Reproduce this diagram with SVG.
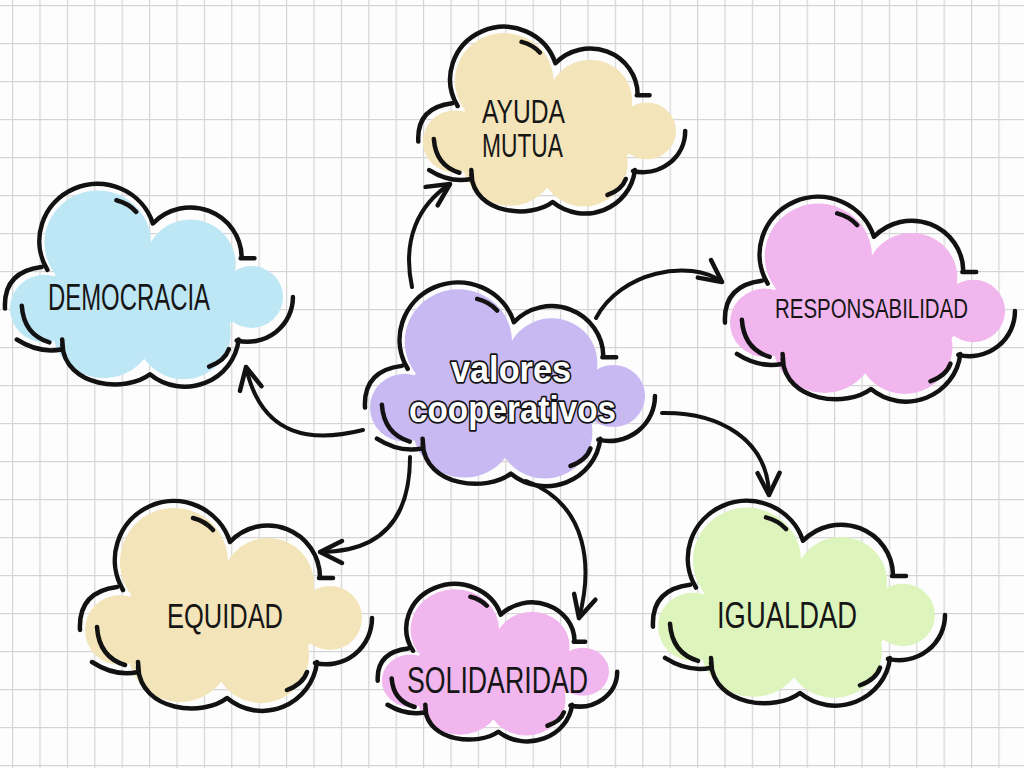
<svg xmlns="http://www.w3.org/2000/svg" width="1024" height="768" viewBox="0 0 1024 768">
<style>
.co{fill:none;stroke:#121212;stroke-width:4.5;stroke-linecap:round;stroke-linejoin:round;vector-effect:non-scaling-stroke}
.conn path{fill:none;stroke:#121212;stroke-width:4;stroke-linecap:round;marker-end:url(#ah)}
.lbl{font-family:"Liberation Sans Narrow","Liberation Sans","DejaVu Sans Condensed",sans-serif;fill:#161616}
.ctr{font-family:"Liberation Sans Narrow","Liberation Sans","DejaVu Sans Condensed",sans-serif;font-weight:bold;fill:#ffffff;stroke:#121212;stroke-width:3.5;stroke-linejoin:round;paint-order:stroke}
</style>
<defs>
<pattern id="grid" width="27.4" height="38" patternUnits="userSpaceOnUse" x="12" y="5">
<rect x="0" y="0" width="1.2" height="38" fill="#d4d4d4"/>
<rect x="0" y="0" width="27.4" height="1.2" fill="#d4d4d4"/>
</pattern>
<marker id="ah" markerWidth="40" markerHeight="40" viewBox="-30 -20 40 40" refX="0" refY="0" orient="auto" markerUnits="userSpaceOnUse">
<path d="M -22,-11 L 0,0 L -22,11" fill="none" stroke="#121212" stroke-width="4.5" stroke-linecap="round" stroke-linejoin="round"/>
</marker>
<g id="cloud">
<circle cx="-49" cy="-55" r="54"/>
<circle cx="45" cy="-33" r="46"/>
<circle cx="107" cy="1" r="32"/>
<circle cx="38" cy="38" r="48"/>
<circle cx="-43" cy="33" r="52"/>
<circle cx="-103" cy="13" r="35"/>
<ellipse cx="0" cy="0" rx="100" ry="55"/>
<path class="co" d="M -143,13 Q -145,-25 -106,-30 M -100,-27 A 59 59 0 1 1 7,-75 A 52 52 0 0 1 97,-40 M 96,-39 L 110,-39 M 149,1 A 46 46 0 0 1 92,46 M 94,45 A 55 55 0 0 1 4,81 C -20,100 -82,95 -85,50 M -85,45 L -84,57 M -85,55 Q -108,60 -131,45 M -30,-99 Q -18,-96 -10,-87 M -126,10 Q -124,40 -98,48 M 64,73 Q 80,67 84,55"/>
</g>
</defs>
<rect x="0" y="0" width="1024" height="768" fill="#fdfdfd"/>
<rect x="0" y="0" width="1024" height="768" fill="url(#grid)"/>

<g id="connectors" class="conn">
<path d="M 363,430 C 315,442 262,440 246,367"/>
<path d="M 410,457 C 410,520 380,552 320,552"/>
<path d="M 526,481 C 590,505 592,570 579,618"/>
<path d="M 412,287 C 402,240 418,205 450,184"/>
<path d="M 596,318 C 620,272 690,258 722,282"/>
<path d="M 662,413 C 720,412 768,440 769,495"/>
</g>

<g id="node-ayuda-mutua">
<use href="#cloud" transform="translate(549 130) scale(0.914 0.89)" fill="#f3e5b9"/>
<text class="lbl" x="482" y="123" font-size="33" textLength="83" lengthAdjust="spacingAndGlyphs">AYUDA</text>
<text class="lbl" x="482" y="157" font-size="33" textLength="81" lengthAdjust="spacingAndGlyphs">MUTUA</text>
</g>

<g id="node-democracia">
<use href="#cloud" transform="translate(146 296) scale(0.986 0.967)" fill="#bee7f6"/>
<text class="lbl" x="48" y="310" font-size="37" textLength="162" lengthAdjust="spacingAndGlyphs">DEMOCRACIA</text>
</g>

<g id="node-responsabilidad">
<use href="#cloud" transform="translate(867 310) scale(0.993 0.976)" fill="#f2b6ee"/>
<text class="lbl" x="775" y="318" font-size="27" textLength="193" lengthAdjust="spacingAndGlyphs">RESPONSABILIDAD</text>
</g>

<g id="node-valores-cooperativos">
<use href="#cloud" transform="translate(507 395) scale(0.993 0.971)" fill="#c9b9f3"/>
<text class="ctr" x="451" y="382" font-size="37" textLength="120" lengthAdjust="spacingAndGlyphs">valores</text>
<text class="ctr" x="409" y="422" font-size="37" textLength="207" lengthAdjust="spacingAndGlyphs">cooperativos</text>
</g>

<g id="node-equidad">
<use href="#cloud" transform="translate(223 617)" fill="#f3e5b9"/>
<text class="lbl" x="167" y="628" font-size="35" textLength="116" lengthAdjust="spacingAndGlyphs">EQUIDAD</text>
</g>

<g id="node-solidaridad">
<use href="#cloud" transform="translate(495 671) scale(0.82 0.75)" fill="#f2b6ee"/>
<text class="lbl" x="407" y="693" font-size="36" textLength="181" lengthAdjust="spacingAndGlyphs">SOLIDARIDAD</text>
</g>

<g id="node-igualdad">
<use href="#cloud" transform="translate(796 614) scale(1 0.976)" fill="#ddf5bd"/>
<text class="lbl" x="717" y="628" font-size="36" textLength="140" lengthAdjust="spacingAndGlyphs">IGUALDAD</text>
</g>
</svg>
